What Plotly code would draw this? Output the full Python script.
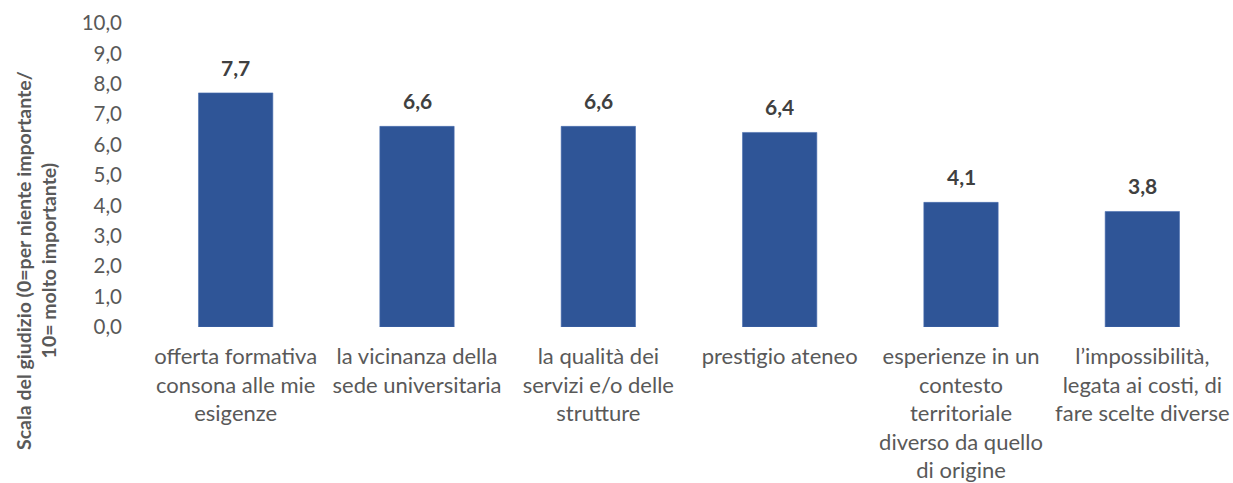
import plotly.graph_objects as go

# Importance ratings (0-10 scale) of reasons for choosing the university
categories = [
    "offerta formativa<br>consona alle mie<br>esigenze",
    "la vicinanza della<br>sede universitaria",
    "la qualità dei<br>servizi e/o delle<br>strutture",
    "prestigio ateneo",
    "esperienze in un<br>contesto<br>territoriale<br>diverso da quello<br>di origine",
    "l’impossibilità,<br>legata ai costi, di<br>fare scelte diverse",
]
scores = [7.7, 6.6, 6.6, 6.4, 4.1, 3.8]
y_ticks = [0, 1, 2, 3, 4, 5, 6, 7, 8, 9, 10]

BAR_BLUE = "#2F5597"
AXIS_GREY = "#595959"
LABEL_GREY = "#404040"
FONT = "Lato"

W, H = 1233, 483
ML, MR, MT, MB = 145, 0, 23, 156
pw, ph = W - ML - MR, H - MT - MB

x_pos = list(range(len(categories)))

fig = go.Figure(
    go.Bar(
        x=x_pos,
        y=scores,
        marker=dict(color=BAR_BLUE, line=dict(color="#4A6FB0", width=0.6)),
        width=0.41,
        hoverinfo="skip",
    )
)

# value labels above each bar
for xi, v in zip(x_pos, scores):
    fig.add_annotation(
        x=xi, y=v, xref="x", yref="y",
        text=f"<b>{v:.1f}</b>".replace(".", ","),
        showarrow=False, yanchor="bottom", yshift=11,
        font=dict(family=FONT, size=21, color=LABEL_GREY),
    )

# rotated y-axis title, anchored at pixel (36, 261) of the figure
title_px_x, title_px_y = 36, 261
fig.add_annotation(
    x=(title_px_x - ML) / pw, y=(H - MB - title_px_y) / ph,
    xref="paper", yref="paper",
    text="<b>Scala del giudizio (0=per niente importante/<br>10= molto importante)</b>",
    showarrow=False, textangle=-90,
    xanchor="center", yanchor="middle",
    font=dict(family=FONT, size=19.5, color=AXIS_GREY),
)

fig.update_layout(
    width=W, height=H,
    margin=dict(l=ML, r=MR, t=MT, b=MB),
    plot_bgcolor="white", paper_bgcolor="white",
    separators=",.",
    showlegend=False,
    font=dict(family=FONT, color=AXIS_GREY),
    xaxis=dict(
        tickmode="array", tickvals=x_pos, ticktext=categories,
        range=[-0.5, len(categories) - 0.5],
        showgrid=False, showline=False, zeroline=False, ticks="",
        tickfont=dict(family=FONT, size=22, color=AXIS_GREY),
        ticklabelstandoff=14,
    ),
    yaxis=dict(
        range=[0, 10], tickvals=y_ticks, tickformat=".1f",
        showgrid=False, showline=False, zeroline=False, ticks="",
        tickfont=dict(family=FONT, size=20.5, color=AXIS_GREY),
        ticklabelstandoff=22,
    ),
)

fig.write_html("out.html")
